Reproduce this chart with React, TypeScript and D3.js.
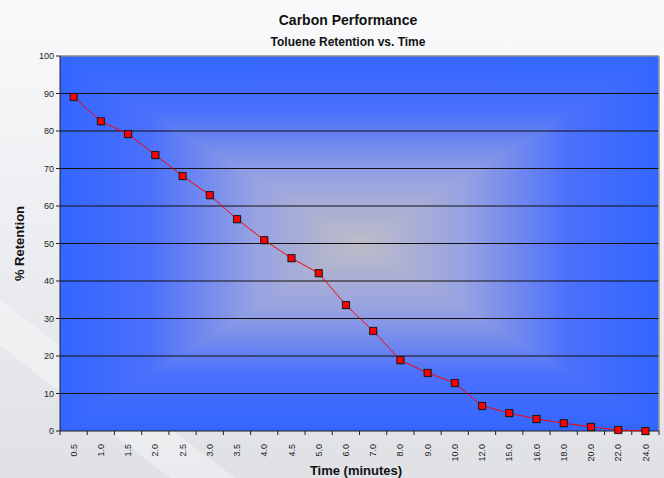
import * as d3 from 'd3';

const times = ['0.5', '1.0', '1.5', '2.0', '2.5', '3.0', '3.5', '4.0', '4.5', '5.0', '6.0', '7.0', '8.0', '9.0', '10.0', '12.0', '15.0', '16.0', '18.0', '20.0', '22.0', '24.0'];
const retention = [89.1, 82.6, 79.2, 73.6, 68.0, 62.9, 56.5, 50.9, 46.1, 42.1, 33.6, 26.7, 18.9, 15.5, 12.8, 6.7, 4.8, 3.2, 2.1, 1.1, 0.3, 0.0];
const yTicks = [0, 10, 20, 30, 40, 50, 60, 70, 80, 90, 100];

const W = 664;
const H = 478;
const margin = { top: 56, right: 5, bottom: 47, left: 60 };

export default function App() {
  const x0 = margin.left;
  const x1 = W - margin.right;
  const y0 = margin.top;
  const y1 = H - margin.bottom;
  const cx = (x0 + x1) / 2;
  const cy = (y0 + y1) / 2;

  const x = d3.scaleBand<string>().domain(times).range([x0, x1]);
  const y = d3.scaleLinear().domain([0, 100]).range([y1, y0]);

  const line = d3
    .line<number>()
    .x((_, i) => x(times[i])! + x.bandwidth() / 2)
    .y(d => y(d));

  const font = '"Liberation Sans", Arial, sans-serif';

  // gradient stops, edge -> center
  const stops = [
    [0, '#3366ff'],
    [0.3, '#4b70fb'],
    [0.65, '#97a2e2'],
    [1, '#bdbdc6'],
  ] as const;
  const mirrored = [
    ...stops.map(([o, c]) => [o / 2, c] as const),
    ...stops.slice().reverse().map(([o, c]) => [1 - o / 2, c] as const),
  ];

  return (
    <svg width={W} height={H} style={{ position: 'absolute', left: 0, top: 0 }}>
      <defs>
        <linearGradient id="bg" x1="0" y1="0" x2="0" y2="1">
          <stop offset="0%" stopColor="#fafafc" />
          <stop offset="100%" stopColor="#dfe1e5" />
        </linearGradient>
        <linearGradient id="gH" gradientUnits="userSpaceOnUse" x1={x0} y1={cy} x2={x1} y2={cy}>
          {mirrored.map(([o, c], i) => <stop key={i} offset={o} stopColor={c} />)}
        </linearGradient>
        <linearGradient id="gV" gradientUnits="userSpaceOnUse" x1={cx} y1={y0} x2={cx} y2={y1}>
          {mirrored.map(([o, c], i) => <stop key={i} offset={o} stopColor={c} />)}
        </linearGradient>
      </defs>

      <rect width={W} height={H} fill="url(#bg)" />
      <polygon points={`0,300 0,345 170,478 235,478`} fill="#ffffff" opacity={0.35} />

      {/* rectangular "from center" fill */}
      <rect x={x0} y={y0} width={x1 - x0} height={y1 - y0} fill="url(#gH)" />
      <polygon points={`${x0},${y0} ${x1},${y0} ${cx},${cy}`} fill="url(#gV)" />
      <polygon points={`${x0},${y1} ${x1},${y1} ${cx},${cy}`} fill="url(#gV)" />

      {/* grid */}
      {yTicks.filter(v => v > 0 && v < 100).map(v => (
        <line key={v} x1={x0} x2={x1} y1={y(v)} y2={y(v)} stroke="#111" strokeWidth={1} />
      ))}
      <line x1={x0} x2={x1} y1={y0} y2={y0} stroke="#888" strokeWidth={1.5} />
      <line x1={x1} x2={x1} y1={y0} y2={y1} stroke="#999" strokeWidth={1.5} />

      {/* axes */}
      <line x1={x0} x2={x0} y1={y0} y2={y1} stroke="#222" strokeWidth={1} />
      <line x1={x0} x2={x1} y1={y1} y2={y1} stroke="#222" strokeWidth={1} />
      {yTicks.map(v => (
        <g key={v}>
          <line x1={x0 - 4} x2={x0} y1={y(v)} y2={y(v)} stroke="#222" />
          <text x={x0 - 6} y={y(v)} dy="0.35em" textAnchor="end" fontFamily={font} fontSize={9} fill="#222">{v}</text>
        </g>
      ))}
      {times.map(t => (
        <line key={'t' + t} x1={x(t)!} x2={x(t)!} y1={y1} y2={y1 + 4} stroke="#222" />
      ))}
      <line x1={x1} x2={x1} y1={y1} y2={y1 + 4} stroke="#222" />
      {times.map(t => {
        const px = x(t)! + x.bandwidth() / 2;
        return (
          <text key={'l' + t} transform={`translate(${px},${y1 + 13}) rotate(-90)`} dy="0.35em" textAnchor="end" fontFamily={font} fontSize={9} fill="#222">{t}</text>
        );
      })}

      {/* series */}
      <path d={line(retention)!} fill="none" stroke="#ff0000" strokeWidth={1} />
      {retention.map((v, i) => {
        const px = x(times[i])! + x.bandwidth() / 2;
        const py = y(v);
        return (
          <g key={i}>
            <rect x={px - 3.5} y={py - 3.5} width={8} height={8} fill="#000" opacity={0.25} />
            <rect x={px - 3.5} y={py - 3.5} width={7} height={7} fill="#ff0000" stroke="#1a1a1a" strokeWidth={1} />
          </g>
        );
      })}

      {/* titles */}
      <text x={348} y={25} textAnchor="middle" fontFamily={font} fontSize={14} fontWeight="bold" fill="#111">Carbon Performance</text>
      <text x={348} y={46} textAnchor="middle" fontFamily={font} fontSize={12} fontWeight="bold" fill="#111">Toluene Retention vs. Time</text>
      <text x={356} y={475} textAnchor="middle" fontFamily={font} fontSize={13} fontWeight="bold" fill="#111">Time (minutes)</text>
      <text transform={`translate(24,${cy}) rotate(-90)`} textAnchor="middle" fontFamily={font} fontSize={13} fontWeight="bold" fill="#111">% Retention</text>
    </svg>
  );
}
